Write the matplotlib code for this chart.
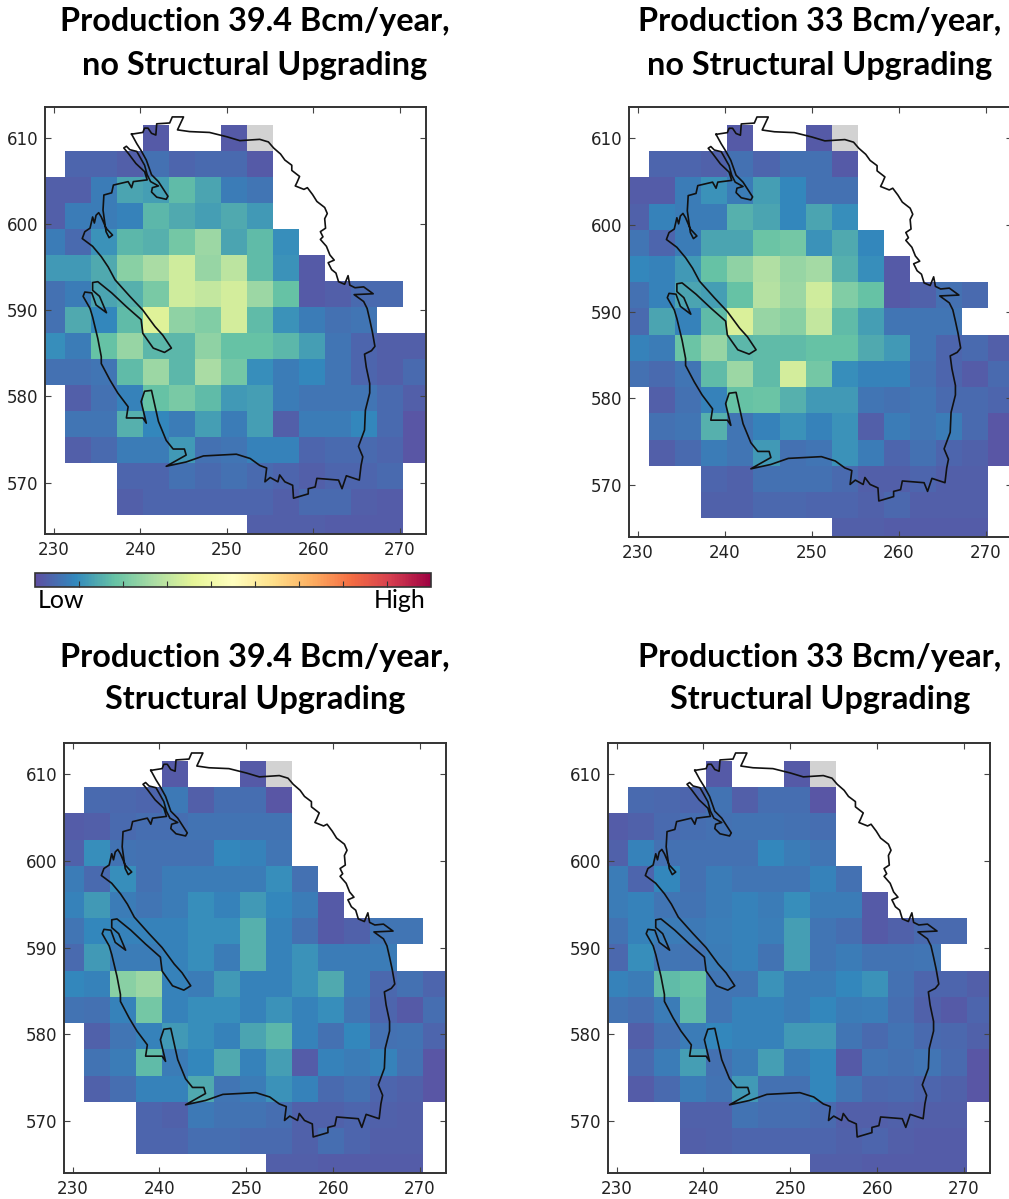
import numpy as np
import matplotlib
matplotlib.use("Agg")
import matplotlib.pyplot as plt
from matplotlib.cm import ScalarMappable
from matplotlib.colors import Normalize

plt.rcParams['font.family'] = ['DejaVu Sans']

N = None
G = -1  # no-data cell drawn grey

panel_a = [
 [N,N,N,N,.02,N,N,.02,G,N,N,N,N,N,N],
 [N,.04,.04,.03,.06,.04,.05,.05,.02,N,N,N,N,N,N],
 [.03,.03,.08,.15,.14,.19,.15,.08,.07,N,N,N,N,N,N],
 [.03,.08,.08,.09,.18,.16,.14,.16,.13,N,N,N,N,N,N],
 [.08,.05,.12,.18,.17,.22,.28,.15,.19,.11,N,N,N,N,N],
 [.13,.13,.16,.25,.30,.36,.27,.33,.19,.12,.02,N,N,N,N],
 [.06,.08,.15,.17,.23,.36,.34,.37,.28,.20,.02,.03,.05,.05,N],
 [.06,.16,.10,.19,.39,.26,.24,.37,.19,.12,.08,.06,.07,N,N],
 [.11,.08,.20,.27,.18,.18,.26,.20,.20,.18,.14,.07,.04,.03,.03],
 [.06,.06,.07,.19,.28,.18,.30,.22,.11,.08,.10,.07,.04,.03,.05],
 [N,.03,.06,.09,.20,.23,.19,.13,.14,.08,.07,.07,.07,.05,.03],
 [N,.07,.07,.17,.10,.08,.14,.08,.14,.03,.08,.08,.10,.05,.015],
 [N,.03,.05,.08,.08,.13,.06,.07,.09,.09,.04,.05,.05,.04,.015],
 [N,N,N,.04,.04,.06,.05,.06,.05,.04,.03,.04,.04,.05,N],
 [N,N,N,.03,.04,.04,.04,.04,.04,.03,.05,.05,.03,.025,N],
 [N,N,N,N,N,N,N,N,.03,.03,.03,.025,.025,.025,N],
]
panel_b = [
 [N,N,N,N,.02,N,N,.02,G,N,N,N,N,N,N],
 [N,.04,.04,.035,.06,.04,.06,.06,.02,N,N,N,N,N,N],
 [.025,.025,.08,.12,.08,.14,.10,.06,.06,N,N,N,N,N,N],
 [.035,.09,.08,.08,.17,.15,.10,.15,.11,N,N,N,N,N,N],
 [.07,.04,.08,.15,.15,.21,.22,.12,.16,.10,N,N,N,N,N],
 [.10,.09,.13,.20,.26,.31,.27,.29,.17,.11,.02,N,N,N,N],
 [.06,.09,.15,.14,.20,.32,.28,.36,.24,.20,.02,.035,.06,.05,N],
 [.05,.15,.09,.19,.38,.27,.25,.34,.19,.14,.07,.07,.07,N,N],
 [.09,.08,.21,.27,.18,.19,.19,.20,.20,.16,.13,.07,.04,.05,.03],
 [.06,.05,.07,.19,.28,.19,.37,.22,.11,.09,.09,.06,.04,.025,.05],
 [N,.03,.06,.09,.20,.21,.17,.13,.13,.07,.06,.07,.05,.05,.04],
 [N,.06,.07,.17,.07,.09,.12,.09,.12,.03,.08,.07,.08,.05,.012],
 [N,.03,.05,.08,.07,.13,.06,.07,.12,.08,.04,.06,.04,.035,.012],
 [N,N,N,.04,.035,.06,.06,.06,.05,.03,.03,.04,.03,.03,N],
 [N,N,N,.035,.035,.045,.045,.04,.04,.035,.045,.03,.03,.03,N],
 [N,N,N,N,N,N,N,N,.03,.03,.025,.025,.025,.025,N],
]
panel_c = [
 [N,N,N,N,.02,N,N,.02,G,N,N,N,N,N,N],
 [N,.05,.045,.04,.075,.03,.055,.055,.015,N,N,N,N,N,N],
 [.025,.03,.05,.055,.055,.065,.065,.065,.065,N,N,N,N,N,N],
 [.035,.11,.065,.06,.06,.06,.10,.09,.07,N,N,N,N,N,N],
 [.08,.05,.11,.06,.08,.08,.08,.08,.11,.06,N,N,N,N,N],
 [.09,.13,.08,.07,.08,.11,.09,.13,.10,.08,.02,N,N,N,N],
 [.07,.10,.09,.09,.09,.11,.11,.17,.09,.06,.02,.035,.07,.07,N],
 [.05,.13,.08,.08,.09,.11,.08,.17,.09,.12,.08,.08,.08,N,N],
 [.10,.09,.25,.28,.09,.08,.13,.09,.09,.12,.16,.08,.045,.06,.04],
 [.065,.06,.09,.22,.09,.11,.11,.09,.12,.09,.11,.07,.04,.02,.055],
 [N,.035,.07,.09,.13,.11,.09,.15,.18,.09,.06,.10,.06,.065,.04],
 [N,.065,.08,.19,.08,.10,.16,.09,.14,.025,.09,.08,.09,.06,.012],
 [N,.035,.055,.09,.09,.16,.07,.08,.12,.09,.05,.06,.04,.035,.012],
 [N,N,N,.04,.035,.075,.065,.065,.055,.035,.035,.04,.035,.03,N],
 [N,N,N,.04,.04,.055,.055,.05,.05,.035,.055,.04,.03,.03,N],
 [N,N,N,N,N,N,N,N,.03,.03,.025,.025,.025,.025,N],
]
panel_d = [
 [N,N,N,N,.02,N,N,.02,G,N,N,N,N,N,N],
 [N,.05,.045,.04,.065,.03,.055,.055,.015,N,N,N,N,N,N],
 [.025,.035,.05,.055,.06,.065,.065,.06,.055,N,N,N,N,N,N],
 [.035,.09,.06,.06,.06,.06,.10,.08,.07,N,N,N,N,N,N],
 [.08,.04,.10,.06,.08,.07,.07,.07,.09,.06,N,N,N,N,N],
 [.08,.09,.07,.065,.08,.09,.08,.11,.08,.08,.02,N,N,N,N],
 [.065,.09,.08,.075,.085,.09,.085,.14,.07,.055,.02,.035,.05,.05,N],
 [.045,.11,.07,.065,.08,.09,.065,.14,.07,.08,.065,.065,.07,N,N],
 [.09,.08,.19,.20,.07,.07,.12,.08,.08,.10,.12,.06,.04,.04,.03],
 [.065,.055,.08,.19,.07,.09,.09,.08,.10,.08,.085,.055,.035,.02,.04],
 [N,.03,.06,.08,.10,.09,.09,.13,.13,.07,.05,.065,.05,.045,.035],
 [N,.05,.08,.14,.06,.08,.14,.08,.10,.02,.07,.06,.07,.05,.012],
 [N,.025,.05,.08,.065,.13,.06,.06,.10,.07,.045,.05,.04,.035,.012],
 [N,N,N,.035,.035,.065,.055,.055,.05,.03,.03,.035,.03,.03,N],
 [N,N,N,.03,.035,.04,.04,.04,.04,.035,.04,.03,.025,.025,N],
 [N,N,N,N,N,N,N,N,.03,.03,.025,.025,.025,.025,N],
]

outline_x = [239.0,240.3,240.5,240.9,241.3,241.8,241.9,243.4,243.7,245.0,244.3,245.7,248.0,250.0,251.5,253.8,254.8,255.4,256.2,256.7,
 257.5,257.5,258.4,258.1,257.9,258.9,259.3,259.9,260.4,261.3,261.6,261.3,261.4,260.8,261.1,260.8,261.5,261.9,262.4,261.7,
 262.1,262.6,262.9,263.6,264.0,264.2,264.8,265.8,266.9,264.7,265.8,266.2,266.5,266.8,267.1,266.7,265.9,266.1,266.5,266.5,
 266.0,265.9,265.2,265.7,265.5,265.3,263.8,263.3,262.9,260.4,260.2,259.4,259.4,257.7,257.6,256.7,256.1,255.9,255.0,254.4,
 254.6,253.8,252.7,251.1,
 247.3,245.3,243.0,245.3,245.1,243.8,243.0,242.1,241.3,240.5,240.1,240.7,240.3,238.4,238.6,237.4,236.5,235.5,235.5,235.1,
 234.5,234.2,233.4,233.6,234.4,234.9,236.1,235.3,234.5,234.5,235.1,236.7,238.4,240.1,240.3,241.5,242.8,243.6,242.6,241.7,
 240.3,238.8,237.1,236.3,235.5,234.5,233.3,233.6,234.2,234.5,234.7,234.9,235.2,235.5,236.05,236.8,236.4,236.05,235.7,235.8,
 236.7,236.9,238.6,239.0,239.2,240.8,240.5,239.5,238.6,238.1,238.4,238.8,239.6,240.5,240.8,241.2,242.1,241.4,241.3,241.9,
 243.0,243.2,242.1,241.3,240.7,240.1,239.6,239.0]
outline_y = [610.4,610.6,611.1,611.1,610.5,610.3,611.6,611.7,612.4,612.4,610.9,610.7,610.6,610.1,609.65,609.8,609.5,608.8,608.1,607.4,
 606.8,606.2,605.5,604.8,604.4,604.0,604.2,603.4,602.6,601.9,601.2,600.6,599.5,599.1,598.5,598.2,597.4,596.4,595.8,595.5,
 594.7,594.3,593.3,593.0,594.0,592.9,592.6,592.7,591.9,591.8,591.0,590.2,588.9,587.5,585.8,585.3,584.9,583.4,581.5,580.4,
 578.4,576.1,574.2,573.0,572.0,570.3,570.8,569.3,570.3,570.5,569.5,569.3,568.7,568.2,569.7,570.1,570.9,570.1,570.6,570.1,
 571.7,572.0,572.8,573.3,
 573.1,572.4,571.9,573.2,573.9,573.9,574.9,577.1,580.7,580.6,579.4,576.9,577.5,577.5,578.8,580.4,581.9,583.8,584.6,586.7,
 589.2,590.2,591.6,592.1,592.0,590.6,589.7,591.6,592.3,593.2,593.3,592.0,590.4,588.9,587.3,585.6,585.1,585.6,587.1,588.1,
 590.0,591.6,593.5,595.0,596.2,597.4,598.3,599.1,599.5,600.8,600.1,601.0,601.3,600.8,599.5,598.7,598.4,599.1,601.6,603.35,
 603.6,604.5,604.9,604.2,604.9,605.1,606.05,607.0,608.2,608.8,609.0,608.6,608.4,606.8,605.7,604.9,604.4,604.2,603.7,603.1,
 602.85,603.2,604.9,605.7,607.4,608.5,609.3,610.4]

titles = [
 ["Production 39.4 Bcm/year,", "no Structural Upgrading"],
 ["Production 33 Bcm/year,", "no Structural Upgrading"],
 ["Production 39.4 Bcm/year,", "Structural Upgrading"],
 ["Production 33 Bcm/year,", "Structural Upgrading"],
]
x_ticks = [230, 240, 250, 260, 270]
y_ticks = [570, 580, 590, 600, 610]

W, H = 1009, 1199
fig = plt.figure(figsize=(W/100, H/100), dpi=100)

def box(x0, y0, x1, y1):
    return [x0/W, 1-y1/H, (x1-x0)/W, (y1-y0)/H]

cmap = plt.get_cmap('Spectral_r').copy()
cmap.set_bad((1, 1, 1, 0))
cmap.set_under('#d2d2d2')
norm = Normalize(0, 1)
x_edges = 228.3 + 3*np.arange(16)
y_edges = 611.5 - 3.02*np.arange(17)

panels = [panel_a, panel_b, panel_c, panel_d]
frames = [(45,107,426,534), (629,107,1012,537), (64,743,446,1173), (608,743,990,1173)]
for data, fr in zip(panels, frames):
    ax = fig.add_axes(box(*fr))
    arr = np.array([[np.nan if v is None else v for v in row] for row in data], float)
    ax.pcolormesh(x_edges, y_edges, np.ma.masked_invalid(arr), cmap=cmap, norm=norm, linewidth=0, antialiased=False)
    ax.plot(outline_x, outline_y, color='#111111', lw=1.2, solid_joinstyle='round')
    ax.set_xlim(229, 273)
    ax.set_ylim(564.05, 613.55)
    ax.set_xticks(x_ticks)
    ax.set_yticks(y_ticks)
    ax.tick_params(direction='in', top=True, right=True, length=4, width=0.8,
                   labelsize=12, labelfontfamily='DejaVu Sans',
                   color='#444444', labelcolor='#222222', pad=5)
    for s in ax.spines.values():
        s.set_linewidth(1.4)
        s.set_color('#333333')

cax = fig.add_axes(box(35, 573, 431, 587))
cb = fig.colorbar(ScalarMappable(norm=norm, cmap=cmap), cax=cax, orientation='horizontal',
                  ticks=np.linspace(0, 1, 10)[1:-1])
cb.ax.tick_params(direction='in', length=4, width=0.8, labelbottom=False, color='#333333')
cb.outline.set_linewidth(1.2)
cb.outline.set_edgecolor('#333333')

def ftext(x, y, s, **kw):
    fig.text(x/W, 1-y/H, s, family='Lato', color='black', ha='center', va='center', **kw)

ftext(61, 601, "Low", fontsize=18)
ftext(400, 601, "High", fontsize=18)

centers = [(255, 22, 65), (820, 22, 65), (255, 657, 699), (820, 657, 699)]
for t, (cx, y1, y2) in zip(titles, centers):
    ftext(cx, y1, t[0], fontsize=23.3, fontweight='bold')
    ftext(cx, y2, t[1], fontsize=23.3, fontweight='bold')

fig.savefig('out.png', dpi=100)
